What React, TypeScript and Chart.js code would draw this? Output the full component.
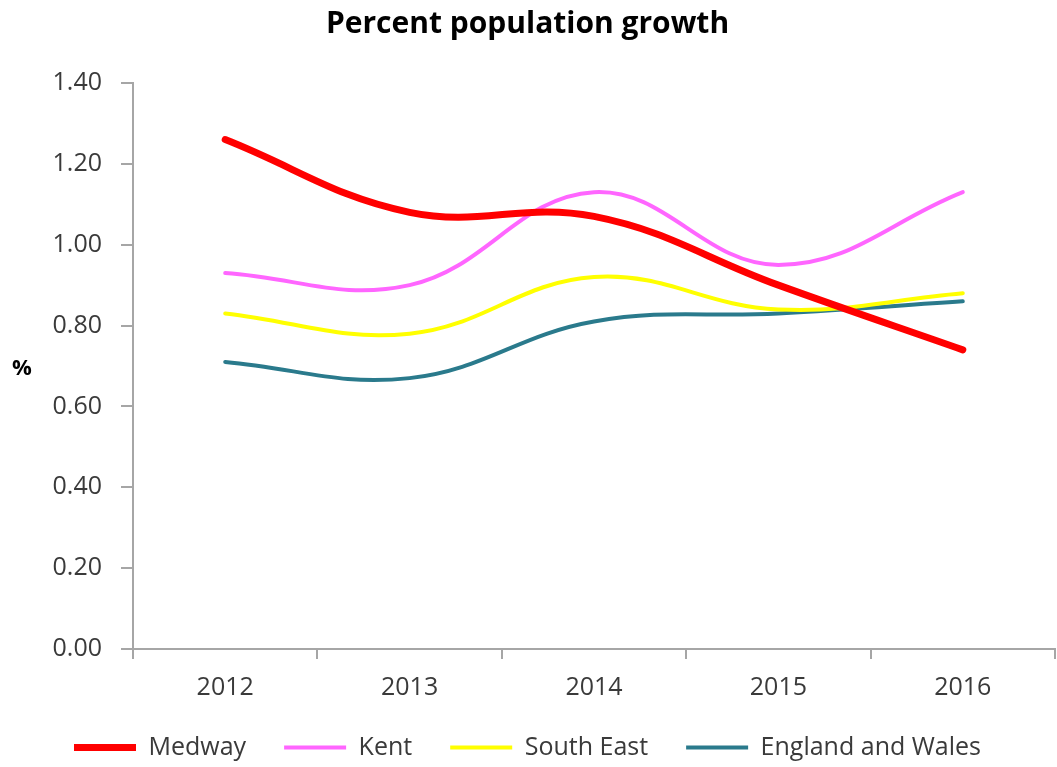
import React, { useEffect, useRef } from "react";
import { Chart, registerables } from "chart.js";

Chart.register(...registerables);

const years = ["2012", "2013", "2014", "2015", "2016"];
const medway = [1.26, 1.08, 1.07, 0.9, 0.74];
const kent = [0.93, 0.9, 1.13, 0.95, 1.13];
const southEast = [0.83, 0.78, 0.92, 0.84, 0.88];
const englandWales = [0.71, 0.67, 0.81, 0.83, 0.86];

const FONT = "'Open Sans', 'Noto Sans', sans-serif";
const AXIS_GREY = "#A6A6A6";
const TEXT_GREY = "#3A3A3A";

const percentLabel = {
  id: "percentLabel",
  afterDraw(chart: any) {
    const { ctx, chartArea } = chart;
    ctx.save();
    ctx.font = `bold 22px ${FONT}`;
    ctx.fillStyle = "#000";
    ctx.textAlign = "center";
    ctx.textBaseline = "middle";
    ctx.fillText("%", 22, (chartArea.top + chartArea.bottom) / 2 + 3);
    ctx.restore();
  },
};

const layoutTweak = {
  id: "layoutTweak",
  afterUpdate(chart: any) {
    const l = chart.legend;
    if (l) {
      l.top += 3;
      l.bottom += 3;
    }
    const x = chart.scales.x;
    if (x) {
      x.bottom = x.top + 70;
    }
  },
};

export default function App() {
  const ref = useRef<HTMLCanvasElement | null>(null);

  useEffect(() => {
    if (!ref.current) return;
    const chart = new Chart(ref.current, {
      type: "line",
      data: {
        labels: years,
        datasets: [
          { label: "Medway", data: medway, borderColor: "#FF0000", backgroundColor: "#FF0000", borderWidth: 7, borderCapStyle: "round" },
          { label: "Kent", data: kent, borderColor: "#FF66FF", backgroundColor: "#FF66FF", borderWidth: 4, borderCapStyle: "round" },
          { label: "South East", data: southEast, borderColor: "#FFFF00", backgroundColor: "#FFFF00", borderWidth: 4, borderCapStyle: "round" },
          { label: "England and Wales", data: englandWales, borderColor: "#2A7A8C", backgroundColor: "#2A7A8C", borderWidth: 4, borderCapStyle: "round" },
        ],
      },
      options: {
        responsive: false,
        animation: false,
        layout: { padding: { left: 0, right: 2, top: 0, bottom: 0 } },
        elements: { point: { radius: 0 }, line: { tension: 0.4 } },
        plugins: {
          title: {
            display: true,
            text: "Percent population growth",
            font: { family: FONT, size: 30, weight: "bold" },
            color: "#000",
            padding: { top: 6, bottom: 41 },
          },
          legend: {
            position: "bottom",
            labels: {
              usePointStyle: true,
              pointStyle: "line",
              pointStyleWidth: 62,
              padding: 38,
              font: { family: FONT, size: 25 },
              color: TEXT_GREY,
            },
          },
          tooltip: { enabled: false },
        },
        scales: {
          x: {
            offset: true,
            grid: { offset: true, drawOnChartArea: false, tickLength: 10, color: AXIS_GREY, lineWidth: 2 },
            border: { color: AXIS_GREY, width: 2 },
            ticks: { font: { family: FONT, size: 25 }, color: TEXT_GREY, padding: 14, maxRotation: 0 },
            afterFit(s: any) {
              s.height = 45;
            },
          },
          y: {
            min: 0,
            max: 1.4,
            ticks: {
              stepSize: 0.2,
              callback: (v: any) => Number(v).toFixed(2),
              font: { family: FONT, size: 25 },
              color: TEXT_GREY,
              padding: 19,
            },
            grid: { drawOnChartArea: false, tickLength: 12, color: AXIS_GREY, lineWidth: 2 },
            border: { color: AXIS_GREY, width: 2 },
            afterFit(s: any) {
              s.width = 133;
            },
          },
        },
      },
      plugins: [percentLabel, layoutTweak],
    } as any);
    return () => chart.destroy();
  }, []);

  return (
    <div style={{ position: "absolute", left: 0, top: 0, width: 1057, height: 767, background: "#fff" }}>
      <canvas ref={ref} width={1057} height={767} style={{ display: "block" }} />
    </div>
  );
}
